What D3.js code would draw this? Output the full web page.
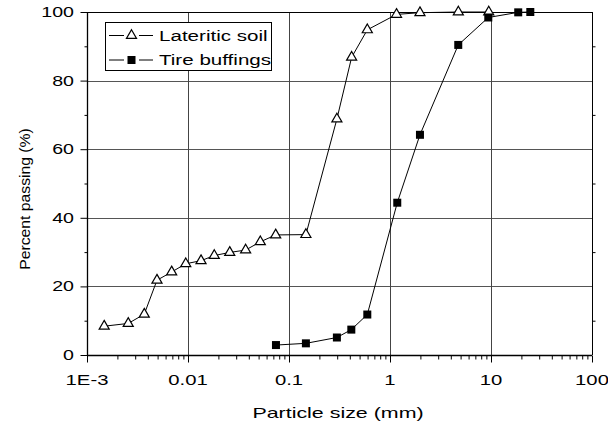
<!DOCTYPE html>
<html><head><meta charset="utf-8">
<script src="https://cdn.jsdelivr.net/npm/d3@7"></script>
<style>body{margin:0;background:#fff}svg{display:block}text{font-family:"Liberation Sans",Arial,sans-serif;fill:#000}</style>
</head><body><svg id="c" width="608" height="425"></svg>
<script>
const soilX=[0.00148,0.00256,0.00369,0.00493,0.00689,0.0095,0.01346,0.0182,0.0259,0.0372,0.052,0.0738,0.147,0.298,0.417,0.596,1.16,1.98,4.75,9.5];
const soilY=[8.4,9.2,11.9,21.8,24.2,26.6,27.5,29,29.9,30.6,33,35,35.1,68.8,86.8,94.8,99.3,99.8,100,100];
const tireX=[0.0743,0.147,0.298,0.414,0.596,1.18,1.98,4.74,9.4,18.6,24.5];
const tireY=[2.9,3.4,5.1,7.4,11.8,44.4,64.2,90.4,98.4,99.9,100];
const xTicks=[0.001,0.01,0.1,1,10,100];
const xTickLabels=["1E-3","0.01","0.1","1","10","100"];
const yTicks=[0,20,40,60,80,100];
const seriesNames=["Lateritic soil","Tire buffings"];

const svg=d3.select("#c");
const L=87,R=592,T=12,B=355;
const x=d3.scaleLog().domain([0.001,100]).range([L,R]);
const y=d3.scaleLinear().domain([0,100]).range([B,T]);
function stext(px,py,str,anchor,size,sx,rot){
  return svg.append("text").attr("transform",`translate(${px},${py})`+(rot?` rotate(${rot})`:"")+` scale(${sx},1)`)
    .attr("text-anchor",anchor).attr("font-size",size).text(str);
}

// gridlines
const g=svg.append("g");
g.selectAll(".hg").data(yTicks.slice(1)).join("line").attr("x1",L).attr("x2",R)
 .attr("y1",d=>Math.round(y(d))+0.5).attr("y2",d=>Math.round(y(d))+0.5).attr("stroke","#555").attr("stroke-width",1);
g.selectAll(".vg").data(xTicks.slice(1)).join("line").attr("y1",T).attr("y2",B)
 .attr("x1",d=>Math.round(x(d))+0.5).attr("x2",d=>Math.round(x(d))+0.5).attr("stroke","#444").attr("stroke-width",1);

// minor ticks x
const minors=[];
for(let e=-3;e<2;e++)for(let k=2;k<10;k++)minors.push(k*Math.pow(10,e));
const xa=svg.append("g").attr("transform",`translate(0,${B+0.5})`)
 .call(d3.axisBottom(x).tickValues(minors).tickSize(4).tickFormat(""));
const xb=svg.append("g").attr("transform",`translate(0,${B+0.5})`)
 .call(d3.axisBottom(x).tickValues(xTicks).tickSize(7).tickFormat(""));
[xa,xb].forEach(a=>{a.select(".domain").remove();a.selectAll("line").attr("stroke","#000");});
svg.append("line").attr("x1",L).attr("x2",R).attr("y1",B+0.5).attr("y2",B+0.5).attr("stroke","#000").attr("stroke-width",1.3);
xTicks.forEach((t,i)=>stext(x(t),385,xTickLabels[i],"middle",14,1.45));

// y axis
const ya=svg.append("g").attr("transform",`translate(${L+0.5},0)`)
 .call(d3.axisLeft(y).tickValues([10,30,50,70,90]).tickSize(3).tickFormat(""));
const yb=svg.append("g").attr("transform",`translate(${L+0.5},0)`)
 .call(d3.axisLeft(y).tickValues(yTicks).tickSize(7).tickFormat(""));
[ya,yb].forEach(a=>{a.select(".domain").remove();a.selectAll("line").attr("stroke","#000");});
yTicks.forEach(t=>stext(74,y(t)+5,String(t),"end",14,1.4));
svg.append("line").attr("x1",L+0.5).attr("x2",L+0.5).attr("y1",T).attr("y2",B).attr("stroke","#000").attr("stroke-width",1.3);
// right axis
svg.append("line").attr("x1",R+0.5).attr("x2",R+0.5).attr("y1",T).attr("y2",B).attr("stroke","#000");
const yr=svg.append("g").attr("transform",`translate(${R+0.5},0)`)
 .call(d3.axisRight(y).tickValues([10,30,50,70,90]).tickSize(3).tickFormat(""));
yr.select(".domain").remove();yr.selectAll("line").attr("stroke","#000");
svg.append("line").attr("x1",L).attr("x2",R).attr("y1",T+0.5).attr("y2",T+0.5).attr("stroke","#000");

// lines
const line=d3.line().x(d=>x(d[0])).y(d=>y(d[1]));
const soil=soilX.map((v,i)=>[v,soilY[i]]);
const tire=tireX.map((v,i)=>[v,tireY[i]]);
svg.append("path").datum(soil).attr("d",line).attr("fill","none").attr("stroke","#000").attr("stroke-width",1);
svg.append("path").datum(tire).attr("d",line).attr("fill","none").attr("stroke","#000").attr("stroke-width",1);

const tri=d3.symbol().type(d3.symbolTriangle).size(44);
svg.selectAll(".tri").data(soil).join("path").attr("d",tri)
 .attr("transform",d=>`translate(${x(d[0])},${y(d[1])})`).attr("fill","#fff").attr("stroke","#000").attr("stroke-width",1.2);
svg.selectAll(".sq").data(tire).join("rect")
 .attr("x",d=>x(d[0])-4).attr("y",d=>y(d[1])-4).attr("width",8).attr("height",8).attr("fill","#000");

// legend
const lg=svg.append("g");
lg.append("rect").attr("x",105.5).attr("y",22.5).attr("width",166).attr("height",48).attr("fill","#fff").attr("stroke","#000");
[0,1].forEach(i=>{
  const cy=35.5+i*24.5;
  lg.append("line").attr("x1",109).attr("x2",124).attr("y1",cy).attr("y2",cy).attr("stroke","#000");
  lg.append("line").attr("x1",139).attr("x2",153).attr("y1",cy).attr("y2",cy).attr("stroke","#000");
  if(i===0) lg.append("path").attr("d",tri).attr("transform",`translate(131.5,${cy})`).attr("fill","#fff").attr("stroke","#000").attr("stroke-width",1.2);
  else lg.append("rect").attr("x",127.5).attr("y",cy-4).attr("width",8).attr("height",8).attr("fill","#000");
  svg.append("text").attr("transform",`translate(159,${cy+5}) scale(1.47,1)`).attr("font-size",14).text(seriesNames[i]);
});

stext(338,418,"Particle size (mm)","middle",14,1.53);
stext(30,199,"Percent passing (%)","middle",15,1.05,-90);
</script></body></html>
